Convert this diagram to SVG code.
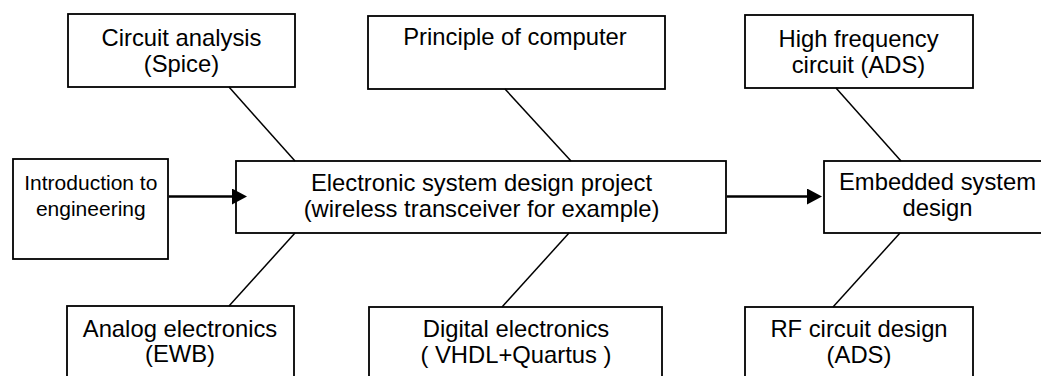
<svg xmlns="http://www.w3.org/2000/svg" width="1041" height="376" viewBox="0 0 1041 376">
<style>
.box{fill:#fff;stroke:#000;stroke-width:1.8}
.t{font-family:"Liberation Sans",Arial,sans-serif;font-size:23.8px;text-anchor:middle;fill:#000}
.ts{font-size:21px}
.link{stroke:#000;stroke-width:1.5;fill:none}
.arrow{stroke:#000;stroke-width:2.6;fill:none;marker-end:url(#ah)}
</style>
<defs>
<marker id="ah" markerUnits="userSpaceOnUse" markerWidth="16" markerHeight="17" refX="7" refY="8" orient="auto">
<path d="M0,0 L15,8 L0,16 z" fill="#000"/>
</marker>
</defs>
<rect width="1041" height="376" fill="#fff"/>
<g id="circuit-analysis">
<rect class="box" x="68" y="14" width="227" height="73"/>
<text class="t" x="181.5" y="46">Circuit analysis</text>
<text class="t" x="181.5" y="72">(Spice)</text>
</g>
<g id="principle-of-computer">
<rect class="box" x="368" y="16" width="297" height="73"/>
<text class="t" x="515" y="45">Principle of computer</text>
</g>
<g id="high-frequency">
<rect class="box" x="745" y="15" width="228" height="73"/>
<text class="t" x="858.5" y="47">High frequency</text>
<text class="t" x="858.5" y="73">circuit (ADS)</text>
</g>
<g id="intro-engineering">
<rect class="box" x="13" y="159" width="155" height="100"/>
<text class="t ts" x="90.8" y="190">Introduction to</text>
<text class="t ts" x="90.8" y="216">engineering</text>
</g>
<g id="main-project">
<rect class="box" x="236" y="161" width="490" height="72"/>
<text class="t" x="481.5" y="191">Electronic system design project</text>
<text class="t" x="481.5" y="217">(wireless transceiver for example)</text>
</g>
<g id="embedded-system">
<rect class="box" x="824" y="161" width="227" height="72"/>
<text class="t" x="937.5" y="190">Embedded system</text>
<text class="t" x="937.5" y="216">design</text>
</g>
<g id="analog-electronics">
<rect class="box" x="67" y="306" width="227" height="90"/>
<text class="t" x="180" y="337">Analog electronics</text>
<text class="t" x="180" y="362">(EWB)</text>
</g>
<g id="digital-electronics">
<rect class="box" x="369" y="307" width="293" height="90"/>
<text class="t" x="516" y="337">Digital electronics</text>
<text class="t" x="516" y="363">( VHDL+Quartus )</text>
</g>
<g id="rf-circuit">
<rect class="box" x="745" y="307" width="228" height="90"/>
<text class="t" x="859" y="337">RF circuit design</text>
<text class="t" x="859" y="363">(ADS)</text>
</g>
<g id="connectors">
<line class="link" x1="229" y1="87" x2="295" y2="161"/>
<line class="link" x1="505" y1="89" x2="571" y2="161"/>
<line class="link" x1="836" y1="88" x2="901" y2="161"/>
<line class="link" x1="229" y1="306" x2="295" y2="233"/>
<line class="link" x1="502" y1="307" x2="569" y2="233"/>
<line class="link" x1="833" y1="307" x2="900" y2="233"/>
<line class="arrow" x1="169" y1="196.5" x2="239" y2="196.5"/>
<line class="arrow" x1="727" y1="196.5" x2="814" y2="196.5"/>
</g>
</svg>
